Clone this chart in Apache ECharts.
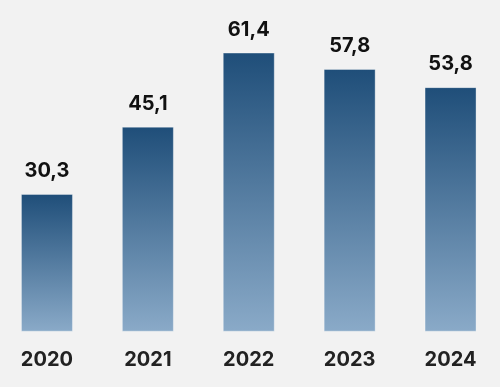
<!DOCTYPE html>
<html><head><meta charset="utf-8">
<script src="https://cdn.jsdelivr.net/npm/echarts@6/dist/echarts.min.js"></script>
<style>html,body{margin:0;padding:0;background:#f2f2f2;overflow:hidden;}#c{position:absolute;left:-4px;top:0;width:505px;height:387px;}</style>
</head><body><div id="c"></div>
<script>
const categories = ['2020', '2021', '2022', '2023', '2024'];
const values = [30.3, 45.1, 61.4, 57.8, 53.8];

const chart = echarts.init(document.getElementById('c'), null, {renderer: 'canvas'});
chart.setOption({
  backgroundColor: '#f2f2f2',
  animation: false,
  grid: {left: 0.5, right: 0, top: 13.5, bottom: 55.3, containLabel: false},
  xAxis: {
    type: 'category', data: categories,
    axisLine: {show: false}, axisTick: {show: false},
    axisLabel: {fontFamily: 'Inter', fontWeight: 'bold', fontSize: 20, color: '#222', margin: 18}
  },
  yAxis: {type: 'value', min: 0, max: 70, show: false, splitLine: {show: false}},
  series: [{
    type: 'bar', data: values, barWidth: 52,
    itemStyle: {
      color: new echarts.graphic.LinearGradient(0, 0, 0, 1, [
        {offset: 0, color: '#1f4e79'},
        {offset: 1, color: '#8aaac8'}
      ]),
      borderColor: 'rgba(255,255,255,0.35)', borderWidth: 1
    },
    label: {
      show: true, position: 'top', distance: 13,
      fontFamily: 'Inter', fontWeight: 'bold', fontSize: 20, color: '#111',
      formatter: p => String(p.value).replace('.', ',')
    }
  }]
});
</script></body></html>
